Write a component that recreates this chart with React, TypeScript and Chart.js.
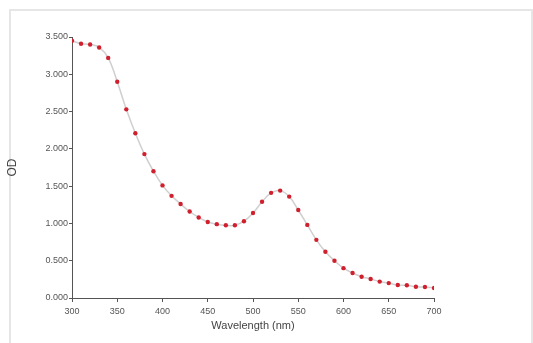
import React, { useEffect, useRef } from "react";
import { Chart, registerables } from "chart.js";

Chart.register(...registerables);

const wavelengths = [300, 310, 320, 330, 340, 350, 360, 370, 380, 390, 400, 410, 420, 430, 440, 450, 460, 470, 480, 490, 500, 510, 520, 530, 540, 550, 560, 570, 580, 590, 600, 610, 620, 630, 640, 650, 660, 670, 680, 690, 700];
const odValues = [3.45, 3.41, 3.4, 3.36, 3.22, 2.9, 2.53, 2.21, 1.93, 1.7, 1.51, 1.37, 1.26, 1.16, 1.08, 1.02, 0.99, 0.975, 0.975, 1.03, 1.14, 1.29, 1.41, 1.44, 1.36, 1.18, 0.98, 0.78, 0.62, 0.5, 0.4, 0.335, 0.285, 0.255, 0.22, 0.2, 0.175, 0.17, 0.15, 0.147, 0.134];
const xTitle = "Wavelength (nm)";
const yTitle = "OD";

export default function App() {
  const ref = useRef<HTMLCanvasElement>(null);
  useEffect(() => {
    if (!ref.current) return;
    const axisColor = "#555";
    const tickFont = { family: "'Liberation Sans', Arial, sans-serif", size: 9 };
    const chart = new Chart(ref.current, {
      type: "line",
      data: {
        datasets: [
          {
            data: wavelengths.map((w, i) => ({ x: w, y: odValues[i] })),
            borderColor: "#cfcfcf",
            borderWidth: 1.5,
            tension: 0.4,
            pointRadius: 2.2,
            pointBackgroundColor: "#d0202e",
            pointBorderColor: "#d0202e",
            pointBorderWidth: 0,
          },
        ],
      },
      options: {
        animation: false,
        responsive: false,
        layout: { padding: { left: 0, top: 37, right: 99, bottom: 0 } },
        plugins: { legend: { display: false }, tooltip: { enabled: false } },
        scales: {
          x: {
            type: "linear",
            min: 300,
            max: 700,
            border: { color: axisColor, width: 1 },
            grid: { drawOnChartArea: false, tickLength: 4, color: axisColor },
            ticks: { stepSize: 50, color: "#555", font: tickFont, padding: 4, maxRotation: 0 },
            title: {
              display: true,
              text: xTitle,
              color: "#444",
              font: { family: "'Liberation Sans', Arial, sans-serif", size: 11 },
              padding: { top: 0, bottom: 10 },
            },
            afterFit: (s: any) => {
              s.height = 45;
            },
          },
          y: {
            min: 0,
            max: 3.5,
            border: { color: axisColor, width: 1 },
            grid: { drawOnChartArea: false, tickLength: 3, color: axisColor },
            ticks: {
              stepSize: 0.5,
              color: "#555",
              font: tickFont,
              padding: 1,
              callback: (v: any) => Number(v).toFixed(3),
            },
            title: {
              display: true,
              text: yTitle,
              color: "#444",
              font: { family: "'Liberation Sans', Arial, sans-serif", size: 12 },
              padding: { top: 5, bottom: 0 },
            },
            afterFit: (s: any) => {
              s.width = 72;
            },
          },
        },
      },
    });
    return () => chart.destroy();
  }, []);
  return (
    <div style={{ position: "fixed", left: 0, top: 0, width: 533, height: 343, background: "#fff" }}>
      <div
        style={{
          position: "absolute",
          left: 9,
          top: 9,
          width: 520,
          height: 340,
          borderTop: "2px solid #e6e6e6",
          borderLeft: "2px solid #e6e6e6",
          borderRight: "2px solid #e6e6e6",
        }}
      />
      <canvas ref={ref} width={533} height={343} style={{ position: "absolute", left: 0, top: 0 }} />
    </div>
  );
}
